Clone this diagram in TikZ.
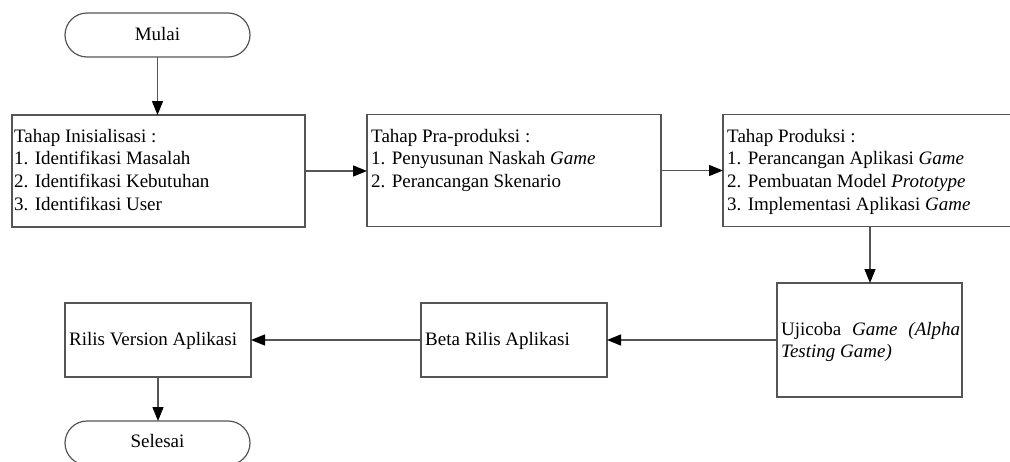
\documentclass[tikz,border=0pt]{standalone}
\usepackage{fontspec}
\setmainfont{Liberation Serif}
\usetikzlibrary{arrows.meta}
\definecolor{linegray}{HTML}{555555}
\tikzset{
  box/.style={draw=linegray, line width=1.2pt, inner sep=0pt, outer sep=0pt},
  term/.style={box, rounded corners=22pt, minimum width=185pt, minimum height=44pt},
  arr/.style={draw=linegray, line width=1.3pt, -{Triangle[length=14pt,width=11pt,black]}},
  lbl/.style={anchor=base west, inner sep=0pt, font=\fontsize{19}{22.7}\selectfont},
  ctr/.style={anchor=base, inner sep=0pt, font=\fontsize{19}{22.7}\selectfont},
}
\begin{document}
\begin{tikzpicture}[x=1pt,y=-1pt]
  \useasboundingbox (0,0) rectangle (1010,461);

  % shapes
  \node[term] (mulai) at (157.5,35) {};
  \node[box, minimum width=293pt, minimum height=112pt] (b1) at (158.5,171) {};
  \node[box, minimum width=294pt, minimum height=112pt] (b2) at (514,170.5) {};
  \node[box, minimum width=294pt, minimum height=112pt] (b3) at (870,170.5) {};
  \node[box, minimum width=185pt, minimum height=114pt] (uji) at (869.5,340) {};
  \node[box, minimum width=186pt, minimum height=74pt] (beta) at (514,340) {};
  \node[box, minimum width=186pt, minimum height=74pt] (rilis) at (158,340) {};
  \node[term] (selesai) at (157.5,443) {};

  % texts
  \node[ctr] (tmulai) at (157.5,40) {Mulai};
  \node[lbl] (t1) at (14,142) {\parbox[t]{285pt}{\raggedright
      Tahap Inisialisasi :\\
      1. Identifikasi Masalah\\
      2. Identifikasi Kebutuhan\\
      3. Identifikasi User}};
  \node[lbl] (t2) at (371,142) {\parbox[t]{285pt}{\raggedright
      Tahap Pra-produksi :\\
      1. Penyusunan Naskah \textit{Game}\\
      2. Perancangan Skenario}};
  \node[lbl] (t3) at (727,142) {\parbox[t]{285pt}{\raggedright
      Tahap Produksi :\\
      1. Perancangan Aplikasi \textit{Game}\\
      2. Pembuatan Model \textit{Prototype}\\
      3. Implementasi Aplikasi \textit{Game}}};
  \node[lbl] (t4) at (781,335) {\parbox[t]{179pt}{%
      \hbox to 179pt{Ujicoba\hfill\textit{Game}\hfill\textit{(Alpha}}%
      \hbox{\textit{Testing Game)}}}};
  \node[lbl] (t5) at (425,345) {Beta Rilis Aplikasi};
  \node[lbl] (t6) at (69,345) {Rilis Version Aplikasi};
  \node[ctr] (tselesai) at (157.5,447) {Selesai};

  % connectors
  \draw[arr] (mulai.south) -- (mulai.south |- b1.north);
  \draw[arr] (b1.east) -- (b1.east -| b2.west);
  \draw[arr] (b2.east) -- (b3.west);
  \draw[arr] (b3.south) -- (b3.south |- uji.north);
  \draw[arr] (uji.west) -- (beta.east);
  \draw[arr] (beta.west) -- (rilis.east);
  \draw[arr] (rilis.south) -- (rilis.south |- selesai.north);
\end{tikzpicture}
\end{document}
